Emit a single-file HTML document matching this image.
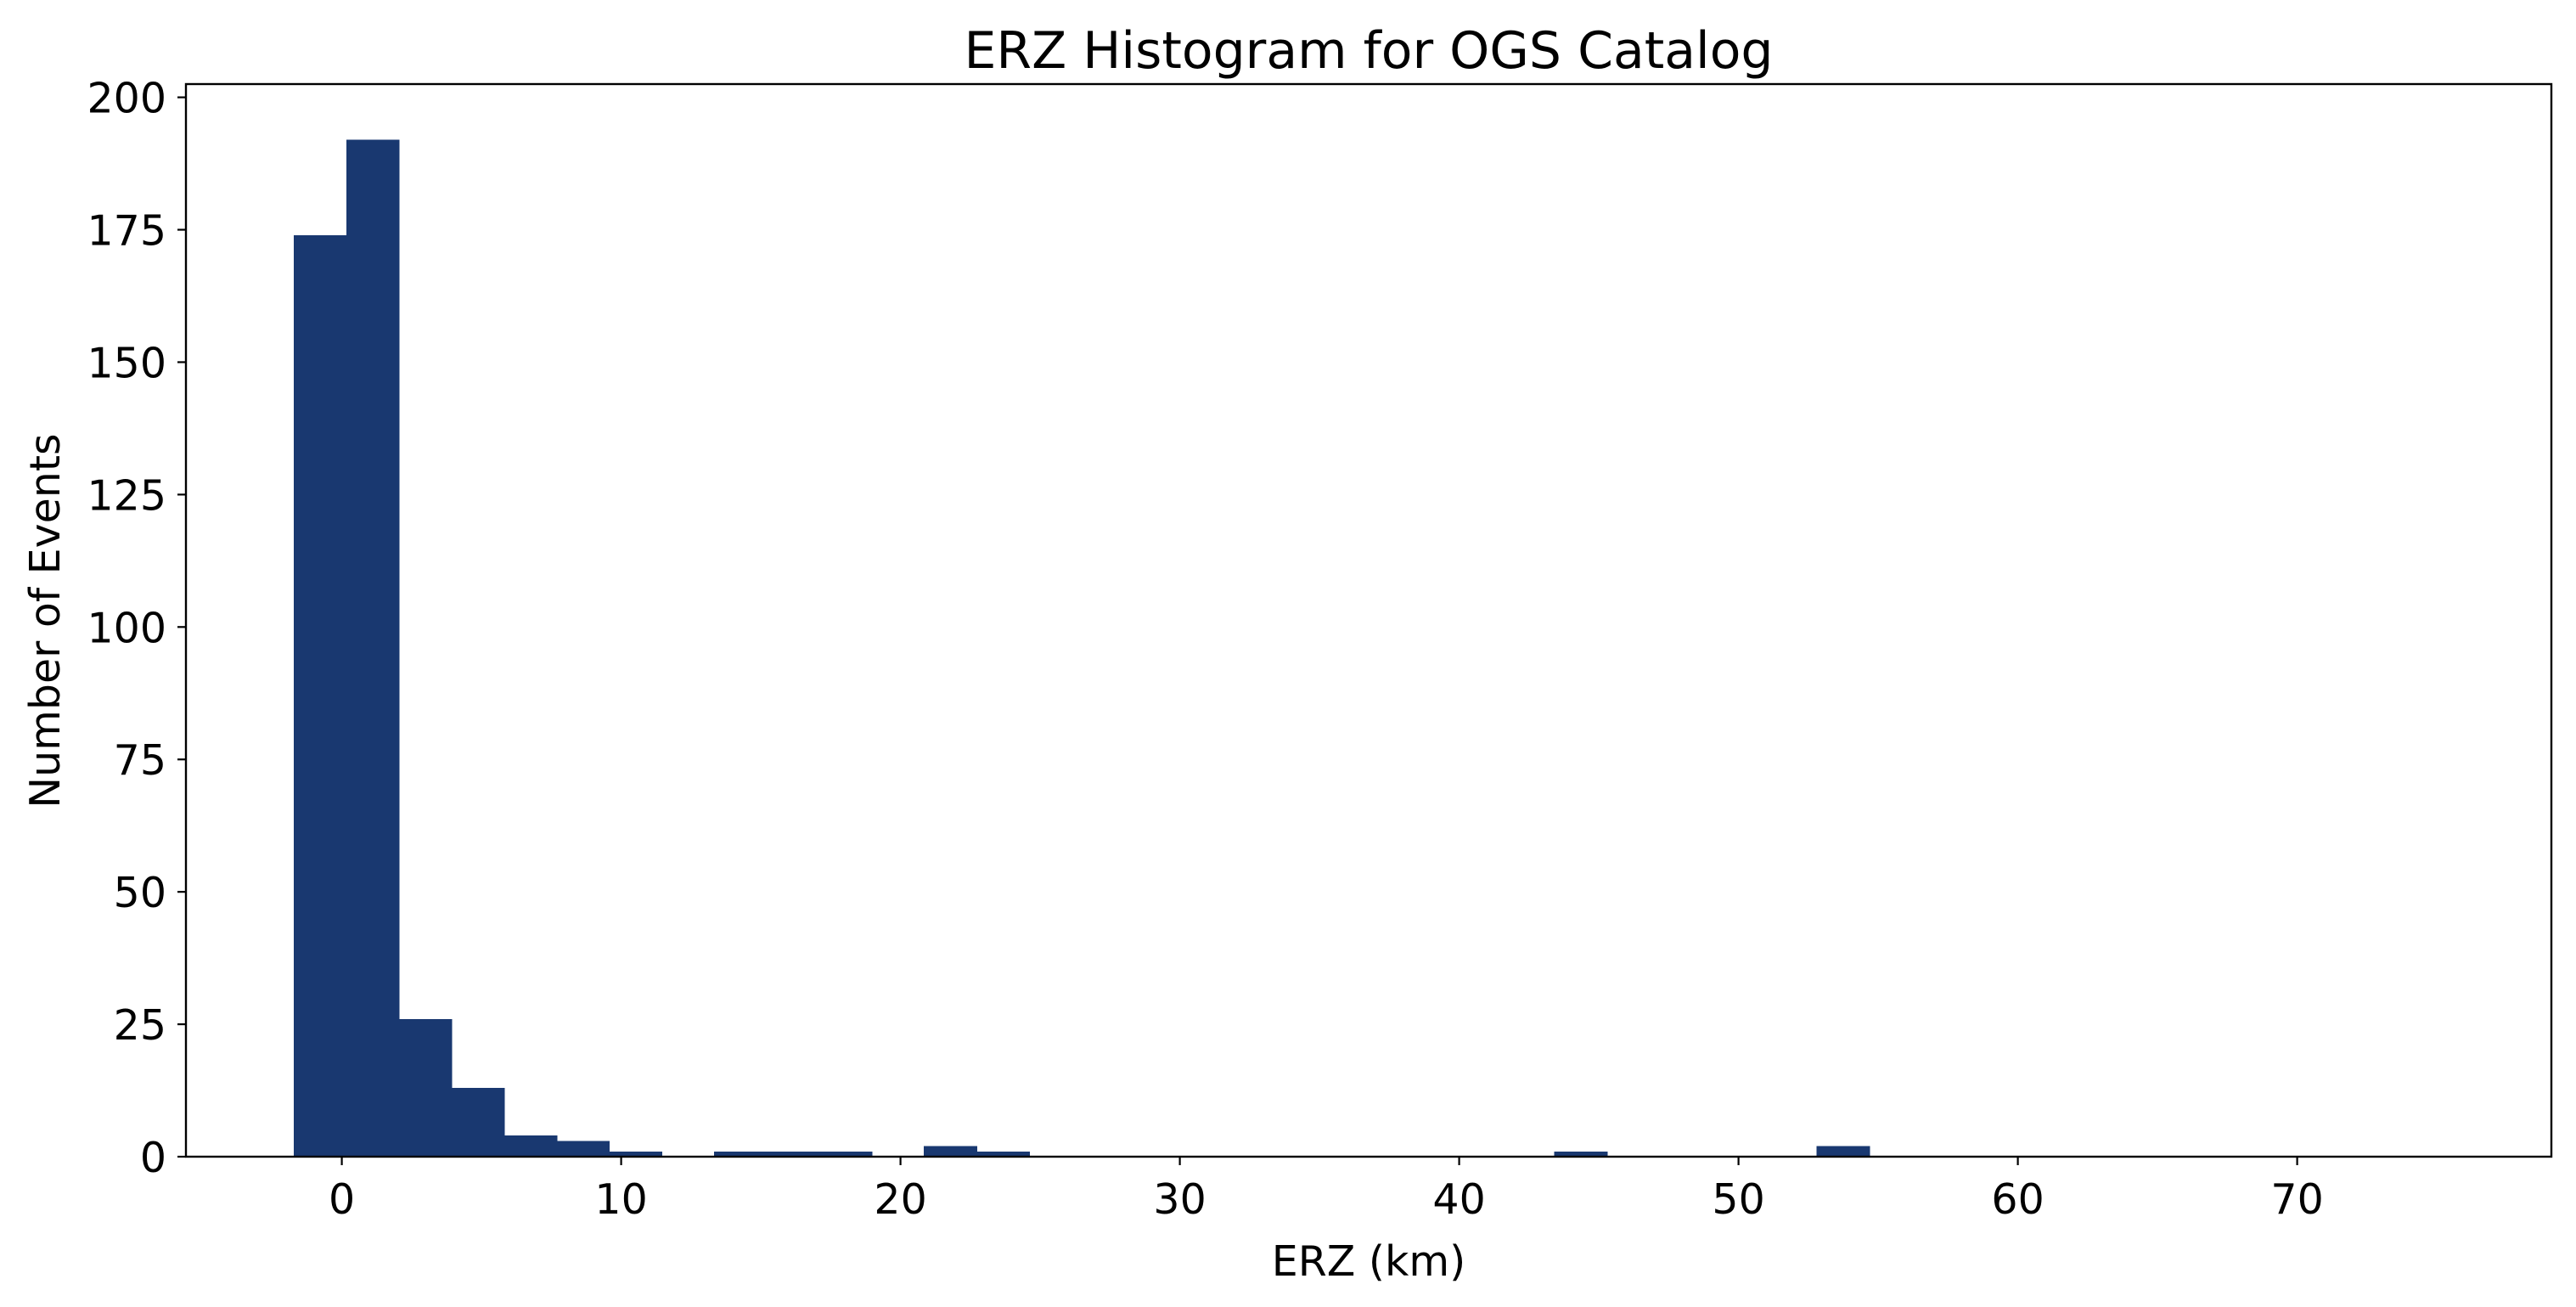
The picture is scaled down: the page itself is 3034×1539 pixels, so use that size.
<!DOCTYPE html>
<html><head><meta charset="utf-8"><style>
html,body{margin:0;padding:0;background:#fff;}
svg text{font-family:"DejaVu Sans","Liberation Sans",sans-serif;fill:#000;}
</style></head><body>
<svg id="chart" width="3034" height="1534" xmlns="http://www.w3.org/2000/svg">
<rect x="0" y="0" width="3034" height="1534" fill="#fff"/>
<g id="bars" shape-rendering="crispEdges"></g>
<g id="axes"></g>
<text x="1612" y="80" font-size="60" text-anchor="middle">ERZ Histogram for OGS Catalog</text>
<text x="1612" y="1502" font-size="49" text-anchor="middle">ERZ (km)</text>
<text transform="translate(70,731) rotate(-90)" font-size="49" text-anchor="middle">Number of Events</text>
</svg>
<script>
const binStart = -1.72;
const binWidth = 1.88;
const counts = [174,192,26,13,4,3,1,0,1,1,1,0,2,1,0,0,0,0,0,0,0,0,0,0,1,0,0,0,0,2,0,0,0,0,0,0,0,0,0,0,0];
const xTicks = [0,10,20,30,40,50,60,70];
const yTicks = [0,25,50,75,100,125,150,175,200];

const L=219,R=3005,T=99,B=1362;
const xMin=-5.58,xMax=79.1,yMin=0,yMax=202.5;
const sx=v=>L+(v-xMin)/(xMax-xMin)*(R-L);
const sy=v=>B-(v-yMin)/(yMax-yMin)*(B-T);
const NS="http://www.w3.org/2000/svg";
const bars=document.getElementById('bars');
const axes=document.getElementById('axes');
function mk(tag,attrs,parent){const e=document.createElementNS(NS,tag);for(const k in attrs)e.setAttribute(k,attrs[k]);parent.appendChild(e);return e;}

counts.forEach((c,i)=>{
  if(c<=0)return;
  const x0=sx(binStart+i*binWidth),x1=sx(binStart+(i+1)*binWidth);
  const r=mk('rect',{x:x0,y:sy(c),width:x1-x0+1,height:sy(0)-sy(c),fill:'#193870'},bars);
  
  
});

const frame=mk('rect',{x:L,y:T,width:R-L,height:B-T,fill:'none',stroke:'#000','stroke-width':2.4},axes);



xTicks.forEach(v=>{
  const x=sx(v);
  const t=mk('line',{x1:x,x2:x,y1:B,y2:B+10,stroke:'#000','stroke-width':2.2},axes);
  
  
  const l=mk('text',{x:x,y:B+67,'font-size':49,'text-anchor':'middle'},axes);
  l.textContent=v;
  
  
});
yTicks.forEach(v=>{
  const y=sy(v);
  const t=mk('line',{x1:L-10,x2:L,y1:y,y2:y,stroke:'#000','stroke-width':2.2},axes);
  
  
  const l=mk('text',{x:L-23,y:y+18,'font-size':49,'text-anchor':'end'},axes);
  l.textContent=v;
  
  
});
</script>
</body></html>
